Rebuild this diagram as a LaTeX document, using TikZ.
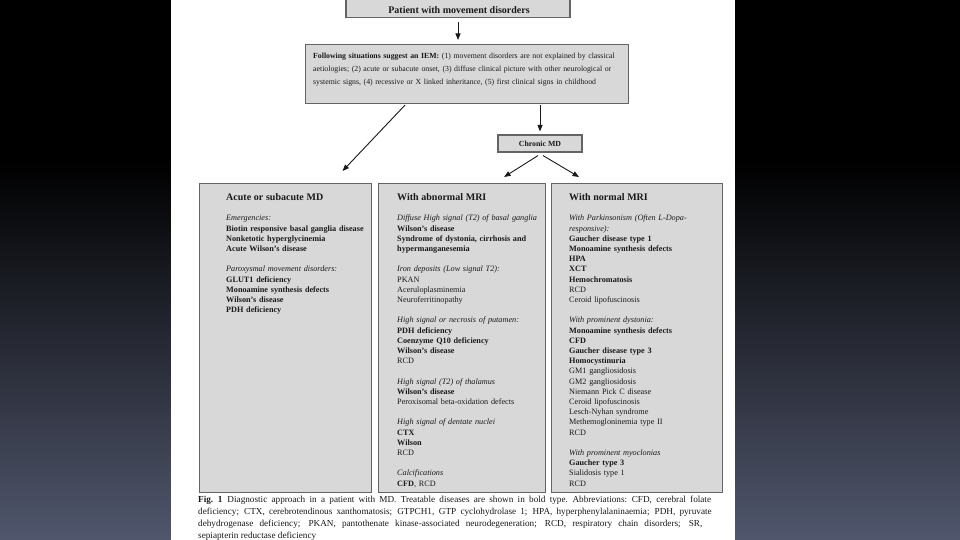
\documentclass[tikz,border=0pt]{standalone}
\usepackage{fontspec}
\setmainfont{Liberation Serif}
\usetikzlibrary{arrows.meta,calc}
\definecolor{boxfill}{RGB}{216,216,216}
\definecolor{boxline}{RGB}{100,100,100}
\definecolor{bgbot}{RGB}{80,86,108}
\definecolor{ink}{RGB}{25,25,25}
\newcommand\hd[1]{\textbf{\fontsize{10}{10.2}\selectfont #1}}
\newcommand\gp{\\[10.2pt]}
\begin{document}
\begin{tikzpicture}[x=1pt,y=-1pt,
  box/.style={draw=boxline,fill=boxfill,line width=1.1pt,inner sep=0pt},
  arr/.style={draw=ink,line width=0.9pt,-{Triangle[length=6.5pt,width=5pt]}},
  coltext/.style={anchor=base west,align=left,inner sep=0pt,text=ink,
    font=\fontsize{8.2}{10.2}\selectfont,text width=165pt}]
\useasboundingbox (0,0) rectangle (960,540);
% background
\fill[black] (0,0) rectangle (960,161);
\shade[top color=black,bottom color=bgbot] (0,160) rectangle (960,540);
\fill[white] (171,0) rectangle (735,540);

% top box
\node[box,minimum width=224pt,minimum height=26pt,anchor=south] (top) at (458,18) {};
\node[anchor=base,inner sep=0pt,text=ink,font=\bfseries\fontsize{10}{12}\selectfont] (toptext) at (459,13.5) {Patient with movement disorders};

% IEM box
\node[box,minimum width=323pt,minimum height=59pt,anchor=north west] (iem) at (305,44) {};
\node[anchor=base west,align=left,inner sep=0pt,text=ink,text width=320pt,
  font=\fontsize{7.8}{12.8}\selectfont] (iemtext) at (313,58.5)
  {\textbf{Following situations suggest an IEM:} (1) movement disorders are not explained by classical\\
   aetiologies; (2) acute or subacute onset, (3) diffuse clinical picture with other neurological or\\
   systemic signs, (4) recessive or X linked inheritance, (5) first clinical signs in childhood};

% chronic
\node[box,minimum width=84pt,minimum height=17pt,text=ink,font=\bfseries\fontsize{7.8}{9}\selectfont] (chronic) at (540,143.5) {Chronic MD};

% columns
\node[box,minimum width=172pt,minimum height=309pt,anchor=north west] (acute) at (199,183) {};
\node[box,minimum width=167pt,minimum height=309pt,anchor=north west] (abn) at (378,183) {};
\node[box,minimum width=171pt,minimum height=309pt,anchor=north west] (norm) at (551,183) {};

\node[coltext] (acutetext) at (226,200.5) {\hd{Acute or subacute MD}\gp
\textit{Emergencies:}\\
\textbf{Biotin responsive basal ganglia disease}\\
\textbf{Nonketotic hyperglycinemia}\\
\textbf{Acute Wilson's disease}\gp
\textit{Paroxysmal movement disorders:}\\
\textbf{GLUT1 deficiency}\\
\textbf{Monoamine synthesis defects}\\
\textbf{Wilson's disease}\\
\textbf{PDH deficiency}};

\node[coltext] (abntext) at (397,200.5) {\hd{With abnormal MRI}\gp
\textit{Diffuse High signal (T2) of basal ganglia}\\
\textbf{Wilson's disease}\\
\textbf{Syndrome of dystonia, cirrhosis and}\\
\textbf{hypermanganesemia}\gp
\textit{Iron deposits (Low signal T2):}\\
PKAN\\
Aceruloplasminemia\\
Neuroferritinopathy\gp
\textit{High signal or necrosis of putamen:}\\
\textbf{PDH deficiency}\\
\textbf{Coenzyme Q10 deficiency}\\
\textbf{Wilson's disease}\\
RCD\gp
\textit{High signal (T2) of thalamus}\\
\textbf{Wilson's disease}\\
Peroxisomal beta-oxidation defects\gp
\textit{High signal of dentate nuclei}\\
\textbf{CTX}\\
\textbf{Wilson}\\
RCD\gp
\textit{Calcifications}\\
\textbf{CFD}, RCD};

\node[coltext] (normtext) at (569,200.5) {\hd{With normal MRI}\gp
\textit{With Parkinsonism (Often L-Dopa-}\\
\textit{responsive):}\\
\textbf{Gaucher disease type 1}\\
\textbf{Monoamine synthesis defects}\\
\textbf{HPA}\\
\textbf{XCT}\\
\textbf{Hemochromatosis}\\
RCD\\
Ceroid lipofuscinosis\gp
\textit{With prominent dystonia:}\\
\textbf{Monoamine synthesis defects}\\
\textbf{CFD}\\
\textbf{Gaucher disease type 3}\\
\textbf{Homocystinuria}\\
GM1 gangliosidosis\\
GM2 gangliosidosis\\
Niemann Pick C disease\\
Ceroid lipofuscinosis\\
Lesch-Nyhan syndrome\\
Methemogloninemia type II\\
RCD\gp
\textit{With prominent myoclonias}\\
\textbf{Gaucher type 3}\\
Sialidosis type 1\\
RCD};

% arrows
\draw[arr,shorten <=4pt,shorten >=4pt] (top.south) -- (top.south |- iem.north);
\draw[arr] ($(iem.south west)+(100,1)$) -- ($(acute.north)+(57,-12)$);
\draw[arr,shorten <=1pt,shorten >=3pt] (iem.south -| chronic.north) -- (chronic.north);
\draw[arr] ($(chronic.south)+(-2,3)$) -- ($(abn.north)+(42,-6)$);
\draw[arr] ($(chronic.south)+(3,3)$) -- ($(norm.north)+(-58,-6)$);

% caption
\node[anchor=base west,inner sep=0pt,text width=522pt,text=ink,
  font=\fontsize{9.2}{12}\selectfont] (caption) at (198,502)
 {\spaceskip=2.3pt plus 4pt minus 0.6pt\hyphenpenalty=10000\tolerance=9999\textbf{Fig. 1}\hspace{5pt}Diagnostic approach in a patient with MD. Treatable diseases are shown in bold type. Abbreviations: CFD, cerebral folate\linebreak
  deficiency; CTX, cerebrotendinous xanthomatosis; GTPCH1, GTP cyclohydrolase 1; HPA, hyperphenylalaninaemia; PDH, pyruvate\linebreak
  dehydrogenase deficiency; PKAN, pantothenate kinase-associated neurodegeneration; RCD, respiratory chain disorders; SR,\linebreak
  sepiapterin reductase deficiency\par};
\end{tikzpicture}
\end{document}
